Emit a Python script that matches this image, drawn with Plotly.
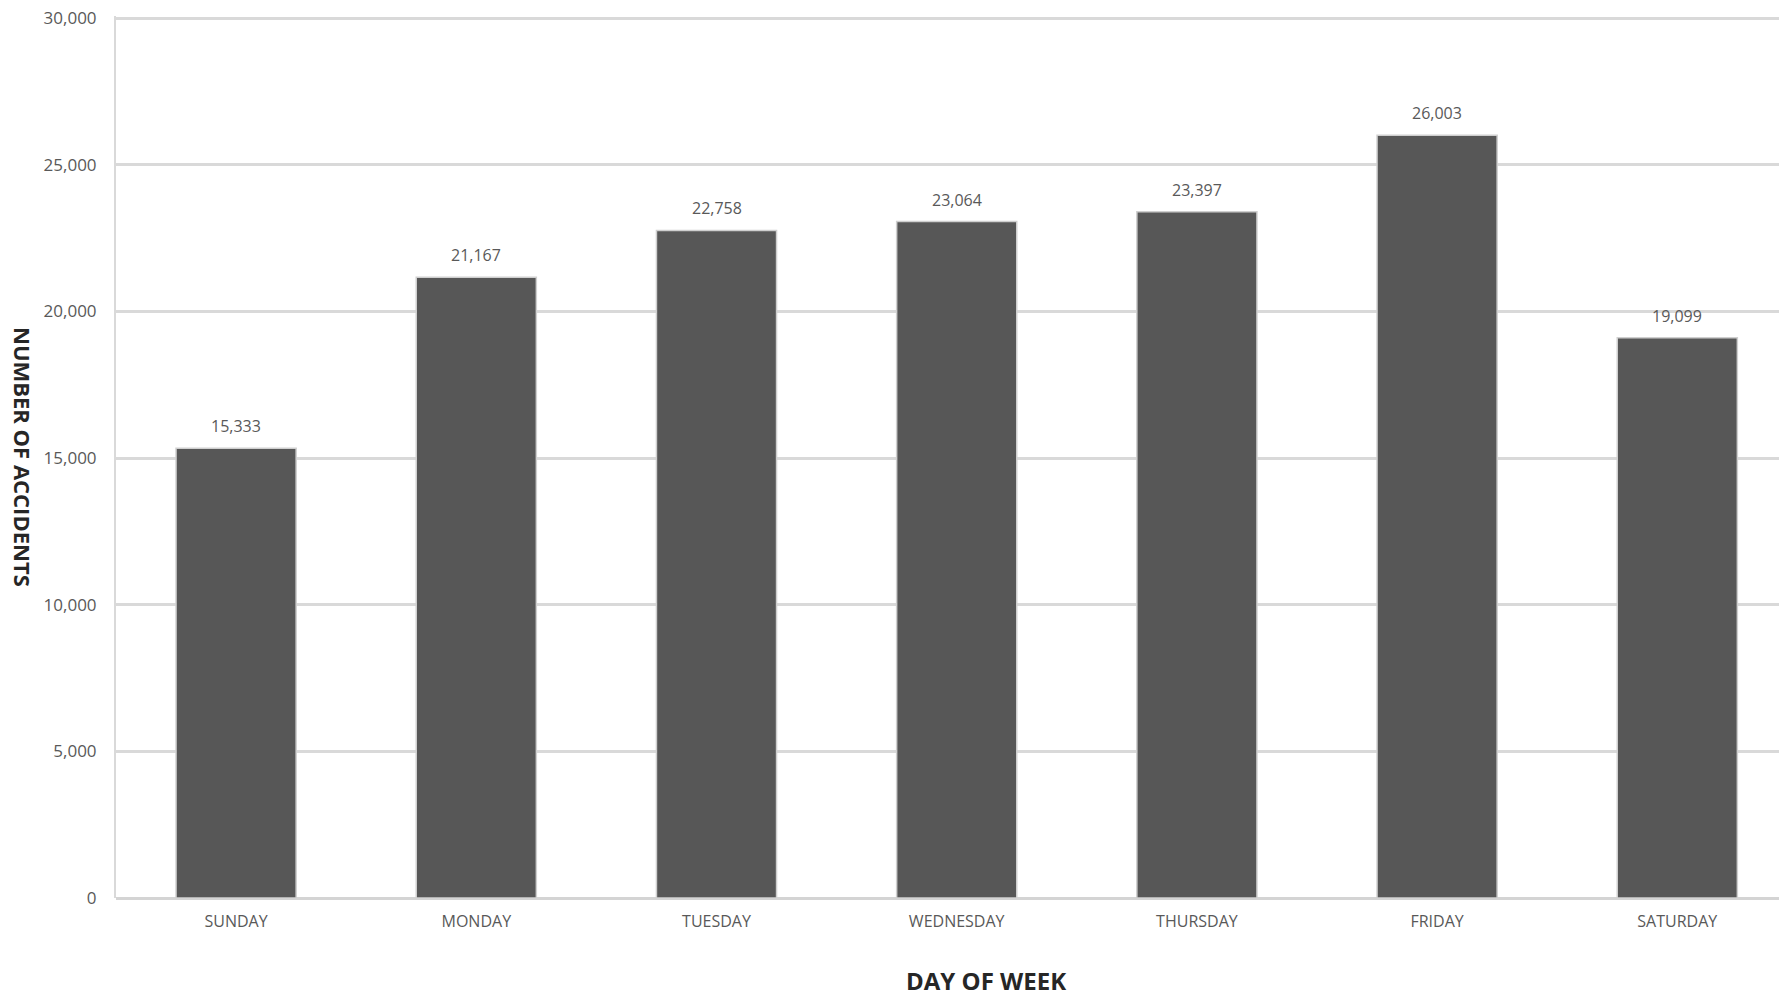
import plotly.graph_objects as go

days = ["SUNDAY", "MONDAY", "TUESDAY", "WEDNESDAY", "THURSDAY", "FRIDAY", "SATURDAY"]
accidents = [15333, 21167, 22758, 23064, 23397, 26003, 19099]
y_ticks = [0, 5000, 10000, 15000, 20000, 25000, 30000]
y_tick_labels = ["0", "5,000", "10,000", "15,000", "20,000", "25,000", "30,000"]

W, H = 1787, 996
OFF = 8  # default body margin of the page
PL, PT, PB = 116, 16, 898   # wanted plot edges in page pixels
L = PL - OFF
T = PT - OFF
B = H - (PB - OFF)
R = OFF

fig = go.Figure()
fig.add_trace(go.Bar(
    x=list(range(len(days))),
    y=accidents,
    marker=dict(color="#575757", line=dict(color="#cfcfcf", width=1.5)),
    width=0.5,
))

for i, v in enumerate(accidents):
    fig.add_annotation(
        x=i, y=v, text=f"{v:,}", showarrow=False,
        xanchor="center", yanchor="middle", yshift=22,
        font=dict(family="Open Sans", size=16, color="#595959"),
    )

fig.update_layout(
    width=W, height=H,
    margin=dict(l=L, r=R, t=T, b=B, autoexpand=False),
    paper_bgcolor="white", plot_bgcolor="white",
    showlegend=False,
    font=dict(family="Open Sans", color="#595959"),
    xaxis=dict(
        range=[-0.5, -0.5 + (W - PL) / 240.2],
        tickmode="array",
        tickvals=list(range(len(days))),
        ticktext=days,
        tickfont=dict(family="Open Sans", size=16, color="#595959"),
        showgrid=False,
        showline=False,
        zeroline=False,
        ticks="",
        ticklabelstandoff=12,
        automargin=False,
    ),
    yaxis=dict(
        range=[0, 30070],
        tickmode="array",
        tickvals=y_ticks,
        ticktext=y_tick_labels,
        tickfont=dict(family="Open Sans", size=17, color="#595959"),
        ticklabeloverflow="allow",
        automargin=False,
        showgrid=True,
        gridcolor="#d9d9d9",
        gridwidth=2.5,
        showline=True,
        linecolor="#d9d9d9",
        linewidth=2,
        zeroline=True,
        zerolinecolor="#d4d4d4",
        zerolinewidth=3,
        ticks="",
        ticklabelstandoff=14,
    ),
)

plot_w = W - L - R
plot_h = H - T - B
fig.add_annotation(
    text="<b>NUMBER OF ACCIDENTS</b>", textangle=90,
    xref="paper", yref="paper", x=-(PL - 23) / plot_w, y=0.5,
    xanchor="center", yanchor="middle", showarrow=False,
    font=dict(family="Open Sans", size=22, color="#262626"),
)
fig.add_annotation(
    text="<b>DAY OF WEEK</b>",
    xref="paper", yref="paper", x=(986 - PL) / plot_w, y=-(981 - PB) / plot_h,
    xanchor="center", yanchor="middle", showarrow=False,
    font=dict(family="Open Sans", size=24, color="#262626"),
)

fig.write_html("out.html")
